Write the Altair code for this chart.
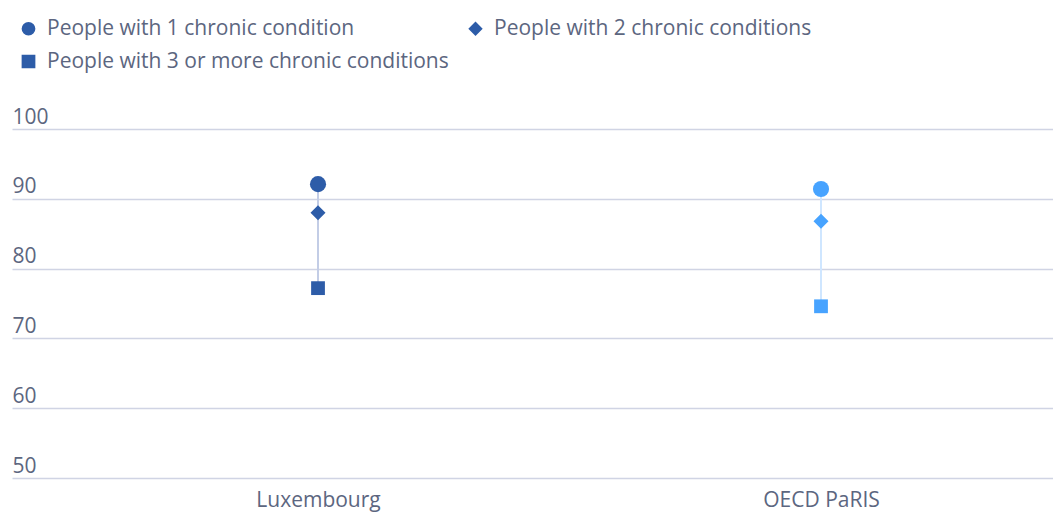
import altair as alt
import pandas as pd

countries = ["Luxembourg", "OECD PaRIS"]
conditions = [
    "People with 1 chronic condition",
    "People with 2 chronic conditions",
    "People with 3 or more chronic conditions",
]
one_condition = [92.1, 91.4]
two_conditions = [88.0, 86.8]
three_plus = [77.2, 74.6]

point_colors = ["#2d5ca8", "#47a3ff"]
rule_colors = ["#c3cde6", "#cfe6ff"]
shapes = ["circle", "diamond", "square"]
size_keys = ["s1", "s2", "s3"]
sizes = [260, 190, 170]
y_ticks = [50, 60, 70, 80, 90, 100]

rows = []
for i, c in enumerate(countries):
    for cond, sk, vals in zip(conditions, size_keys, [one_condition, two_conditions, three_plus]):
        rows.append({"country": c, "condition": cond, "sizekey": sk, "value": vals[i]})
long_df = pd.DataFrame(rows)
wide_df = pd.DataFrame({"country": countries, "top": one_condition, "bottom": three_plus})

FONT = "Open Sans"
TXT = "#5c6680"
FS = 21

x_scale = alt.Scale(type="point", domain=countries, padding=0.5348, align=0.5688)
y_scale = alt.Scale(domain=[50, 100], nice=False, zero=False)

rule = alt.Chart(wide_df).mark_rule(strokeWidth=2).encode(
    x=alt.X("country:N", scale=x_scale, sort=countries,
            axis=alt.Axis(title=None, labelAngle=0, ticks=False, domain=False,
                          labelPadding=11, labelFontSize=FS, labelFont=FONT,
                          labelColor=TXT, grid=False)),
    y=alt.Y("bottom:Q", scale=y_scale,
            axis=alt.Axis(title=None, values=y_ticks, ticks=False, domain=False,
                          labelAlign="left", labelBaseline="alphabetic",
                          labelPadding=0, labelOffset=-6, labelFontSize=FS,
                          labelFont=FONT, labelColor=TXT, grid=True,
                          gridColor="#d0d4e4", gridWidth=1.5)),
    y2="top:Q",
    color=alt.Color("country:N", scale=alt.Scale(domain=countries, range=rule_colors), legend=None),
)

points = alt.Chart(long_df).mark_point(filled=True, opacity=1).encode(
    x=alt.X("country:N", scale=x_scale, sort=countries),
    y=alt.Y("value:Q", scale=y_scale),
    shape=alt.Shape("condition:N", scale=alt.Scale(domain=conditions, range=shapes),
                    legend=alt.Legend(title=None, orient="none", legendX=6, legendY=-111,
                                      columns=2, direction="horizontal",
                                      labelFontSize=FS, labelFont=FONT, labelColor=TXT,
                                      symbolFillColor="#2d5ca8", symbolStrokeColor="#2d5ca8",
                                      symbolSize=150, labelOffset=8, rowPadding=11,
                                      columnPadding=16, labelLimit=600, padding=0)),
    size=alt.Size("sizekey:N", scale=alt.Scale(domain=size_keys, range=sizes), legend=None),
    color=alt.Color("country:N", scale=alt.Scale(domain=countries, range=point_colors), legend=None),
)

chart = alt.layer(rule, points).resolve_scale(color="independent").properties(
    width=1041, height=349,
    background="white",
    autosize=alt.AutoSizeParams(type="none"),
    padding={"left": 4, "top": 121, "right": 0, "bottom": 36},
).configure_view(stroke=None)

chart.save("out.html", embed_options={"renderer": "svg", "actions": False})
